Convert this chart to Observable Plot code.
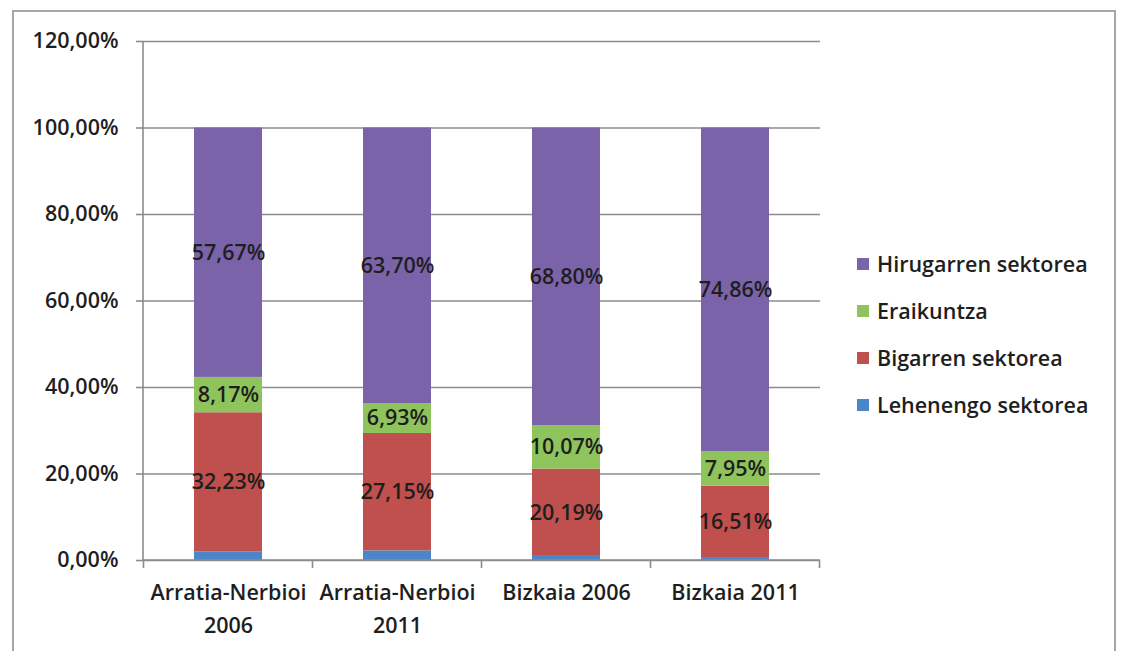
<!DOCTYPE html>
<html>
<head>
<meta charset="utf-8">
<script src="https://cdn.jsdelivr.net/npm/d3@7"></script>
<script src="https://cdn.jsdelivr.net/npm/@observablehq/plot@0.6"></script>
<style>
  html, body { margin: 0; padding: 0; background: #fff; overflow: hidden; }
  #wrap { position: relative; width: 1130px; height: 651px; }
  #border { position: absolute; left: 12px; top: 10px; width: 1104px; height: 700px; border: 2px solid #a6a6a6; box-sizing: border-box; }
  #chart { position: absolute; left: 0; top: 0; }
  #legend { position: absolute; left: 857px; top: 240px; font-family: "Open Sans", Lato, sans-serif; font-size: 21.5px; font-weight: 600; color: #1e1e1e; }
  .item { display: flex; align-items: center; height: 47px; }
  .sw { width: 12px; height: 12px; margin-right: 8px; }
</style>
</head>
<body>
<div id="wrap">
  <div id="border"></div>
  <div id="chart"></div>
  <div id="legend"></div>
</div>
<script>
const categories = ["Arratia-Nerbioi 2006", "Arratia-Nerbioi 2011", "Bizkaia 2006", "Bizkaia 2011"];
const xTickLabels = ["Arratia-Nerbioi\n2006", "Arratia-Nerbioi\n2011", "Bizkaia 2006", "Bizkaia 2011"];
const sectors = ["Lehenengo sektorea", "Bigarren sektorea", "Eraikuntza", "Hirugarren sektorea"];
const lehenengo = [1.93, 2.22, 0.94, 0.68];
const bigarren = [32.23, 27.15, 20.19, 16.51];
const eraikuntza = [8.17, 6.93, 10.07, 7.95];
const hirugarren = [57.67, 63.70, 68.80, 74.86];
const yTicks = [0, 20, 40, 60, 80, 100, 120];
const colors = ["#4a86c8", "#c0504d", "#8fc45c", "#7b63aa"];
const legendOrder = ["Hirugarren sektorea", "Eraikuntza", "Bigarren sektorea", "Lehenengo sektorea"];
const showLabel = [false, true, true, true];

const series = [lehenengo, bigarren, eraikuntza, hirugarren];
const data = [];
series.forEach((vals, si) => {
  vals.forEach((v, ci) => {
    data.push({category: categories[ci], sector: sectors[si], value: v, si});
  });
});

const fmt = v => v.toFixed(2).replace(".", ",") + "%";
const font = "'Open Sans', Lato, sans-serif";
const fs = 21.5;

const axes = (index, scales, values, dimensions) => {
  const g = d3.create("svg:g").attr("stroke", "#8c8c8c").attr("stroke-width", 1.6);
  const x = scales.x, y = scales.y;
  const left = dimensions.marginLeft, right = dimensions.width - dimensions.marginRight;
  const y0 = y(0);
  g.append("line").attr("x1", left).attr("x2", left).attr("y1", y(120)).attr("y2", y0);
  g.append("line").attr("x1", left).attr("x2", right).attr("y1", y0).attr("y2", y0);
  const step = x.step(), bw = x.bandwidth();
  const bounds = categories.map(c => x(c) - (step - bw) / 2);
  bounds.push(x(categories[categories.length - 1]) + bw + (step - bw) / 2);
  bounds.forEach(b => g.append("line").attr("x1", b).attr("x2", b).attr("y1", y0).attr("y2", y0 + 8));
  return g.node();
};

const plot = Plot.plot({
  width: 1130,
  height: 651,
  marginLeft: 143,
  marginRight: 310,
  marginTop: 41,
  marginBottom: 91,
  style: {fontFamily: font, fontSize: fs + "px", fontWeight: 600, color: "#1e1e1e", background: "transparent"},
  x: {domain: categories, paddingInner: 0.6, paddingOuter: 0.3, label: null},
  y: {domain: [0, 120], label: null},
  color: {domain: sectors, range: colors},
  marks: [
    Plot.gridY(yTicks, {stroke: "#8c8c8c", strokeOpacity: 1, strokeWidth: 1.6}),
    Plot.barY(data, {x: "category", y: "value", fill: "sector"}),
    axes,
    Plot.axisY(yTicks, {tickFormat: fmt, tickSize: 7, tickPadding: 18, stroke: "#8c8c8c", strokeWidth: 1.6, fill: "#1e1e1e", fontSize: fs}),
    Plot.axisX({tickSize: 0, tickPadding: 17, tickFormat: c => xTickLabels[categories.indexOf(c)], lineHeight: 1.5, fill: "#1e1e1e", fontSize: fs, textAnchor: "middle", lineAnchor: "top"}),
    Plot.text(data, Plot.stackY({x: "category", y: "value", z: "sector", text: d => showLabel[d.si] ? fmt(d.value) : null, fill: "#1e1e1e", fontSize: fs}))
  ]
});
document.getElementById("chart").appendChild(plot);

const legend = document.getElementById("legend");
legendOrder.forEach(s => {
  const item = document.createElement("div");
  item.className = "item";
  const sw = document.createElement("span");
  sw.className = "sw";
  sw.style.background = colors[sectors.indexOf(s)];
  const t = document.createElement("span");
  t.textContent = s;
  item.appendChild(sw);
  item.appendChild(t);
  legend.appendChild(item);
});
</script>
</body>
</html>
